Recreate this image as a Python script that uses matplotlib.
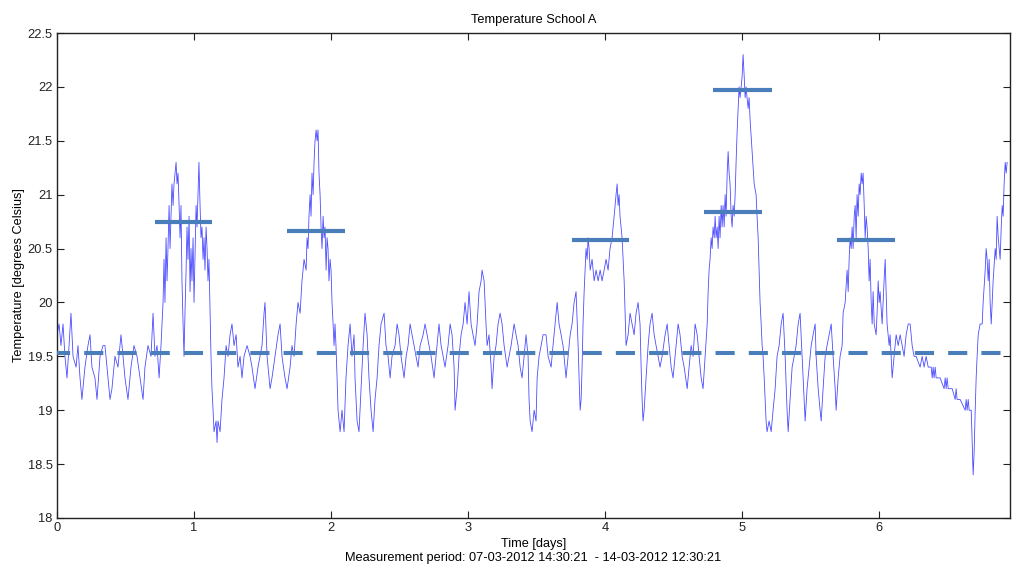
import matplotlib
matplotlib.use("Agg")
import matplotlib.pyplot as plt
from matplotlib.ticker import FuncFormatter

# ---------------- data ----------------
time_days = [
    0.000, 0.015, 0.029, 0.044, 0.058, 0.073, 0.088, 0.102, 0.117, 0.139,
    0.153, 0.168, 0.182, 0.204, 0.226, 0.241, 0.255, 0.277, 0.292, 0.314,
    0.336, 0.350, 0.372, 0.387, 0.401, 0.423, 0.445, 0.467, 0.482, 0.496,
    0.518, 0.540, 0.562, 0.584, 0.606, 0.628, 0.642, 0.664, 0.686, 0.701,
    0.715, 0.730, 0.745, 0.759, 0.774, 0.781, 0.788, 0.796, 0.803, 0.810,
    0.818, 0.825, 0.832, 0.839, 0.847, 0.854, 0.869, 0.876, 0.883, 0.891,
    0.898, 0.905, 0.912, 0.920, 0.927, 0.934, 0.942, 0.949, 0.956, 0.964,
    0.971, 0.978, 0.985, 0.993, 1.000, 1.007, 1.015, 1.022, 1.029, 1.036,
    1.044, 1.051, 1.058, 1.066, 1.073, 1.080, 1.088, 1.095, 1.102, 1.109,
    1.117, 1.124, 1.131, 1.139, 1.146, 1.161, 1.168, 1.175, 1.190, 1.204,
    1.219, 1.234, 1.248, 1.263, 1.277, 1.292, 1.307, 1.321, 1.336, 1.350,
    1.365, 1.387, 1.409, 1.423, 1.445, 1.467, 1.496, 1.511, 1.518, 1.533,
    1.555, 1.569, 1.591, 1.613, 1.628, 1.642, 1.664, 1.679, 1.701, 1.715,
    1.730, 1.745, 1.759, 1.774, 1.788, 1.803, 1.818, 1.825, 1.832, 1.839,
    1.847, 1.854, 1.861, 1.869, 1.876, 1.883, 1.891, 1.898, 1.905, 1.912,
    1.920, 1.927, 1.934, 1.942, 1.949, 1.956, 1.964, 1.971, 1.978, 1.985,
    1.993, 2.000, 2.007, 2.015, 2.022, 2.029, 2.036, 2.044, 2.051, 2.066,
    2.080, 2.095, 2.109, 2.124, 2.139, 2.153, 2.168, 2.175, 2.190, 2.204,
    2.219, 2.234, 2.248, 2.263, 2.277, 2.292, 2.307, 2.321, 2.336, 2.350,
    2.365, 2.387, 2.401, 2.416, 2.431, 2.445, 2.467, 2.482, 2.496, 2.511,
    2.533, 2.548, 2.562, 2.577, 2.591, 2.606, 2.620, 2.635, 2.650, 2.672,
    2.686, 2.701, 2.715, 2.730, 2.752, 2.766, 2.788, 2.803, 2.818, 2.832,
    2.854, 2.869, 2.883, 2.898, 2.905, 2.920, 2.934, 2.949, 2.964, 2.978,
    2.993, 3.007, 3.022, 3.036, 3.051, 3.066, 3.080, 3.095, 3.102, 3.117,
    3.131, 3.139, 3.153, 3.168, 3.175, 3.190, 3.204, 3.219, 3.234, 3.248,
    3.263, 3.285, 3.299, 3.314, 3.336, 3.350, 3.365, 3.380, 3.394, 3.409,
    3.423, 3.438, 3.445, 3.453, 3.467, 3.482, 3.496, 3.504, 3.518, 3.533,
    3.547, 3.569, 3.584, 3.606, 3.620, 3.635, 3.650, 3.664, 3.679, 3.693,
    3.715, 3.730, 3.745, 3.759, 3.774, 3.788, 3.803, 3.810, 3.818, 3.825,
    3.832, 3.839, 3.847, 3.854, 3.861, 3.869, 3.876, 3.883, 3.891, 3.905,
    3.920, 3.934, 3.949, 3.964, 3.978, 3.993, 4.007, 4.022, 4.036, 4.051,
    4.066, 4.080, 4.088, 4.095, 4.102, 4.109, 4.124, 4.139, 4.146, 4.153,
    4.168, 4.182, 4.197, 4.212, 4.226, 4.241, 4.255, 4.263, 4.270, 4.277,
    4.285, 4.299, 4.314, 4.328, 4.343, 4.358, 4.372, 4.387, 4.401, 4.416,
    4.438, 4.453, 4.467, 4.482, 4.496, 4.511, 4.533, 4.547, 4.562, 4.577,
    4.599, 4.613, 4.628, 4.642, 4.657, 4.672, 4.686, 4.701, 4.715, 4.730,
    4.745, 4.752, 4.759, 4.766, 4.774, 4.781, 4.788, 4.796, 4.803, 4.810,
    4.818, 4.825, 4.832, 4.839, 4.847, 4.854, 4.861, 4.869, 4.876, 4.883,
    4.891, 4.898, 4.905, 4.912, 4.920, 4.927, 4.934, 4.942, 4.949, 4.956,
    4.964, 4.971, 4.978, 4.985, 4.993, 5.000, 5.007, 5.015, 5.022, 5.029,
    5.036, 5.044, 5.051, 5.058, 5.073, 5.088, 5.102, 5.109, 5.117, 5.124,
    5.131, 5.139, 5.146, 5.153, 5.161, 5.168, 5.175, 5.182, 5.197, 5.212,
    5.226, 5.241, 5.255, 5.270, 5.285, 5.299, 5.314, 5.328, 5.336, 5.350,
    5.365, 5.380, 5.394, 5.409, 5.423, 5.438, 5.453, 5.460, 5.474, 5.489,
    5.504, 5.518, 5.533, 5.540, 5.555, 5.569, 5.577, 5.591, 5.606, 5.620,
    5.635, 5.650, 5.664, 5.679, 5.686, 5.701, 5.715, 5.730, 5.737, 5.752,
    5.766, 5.774, 5.781, 5.788, 5.796, 5.803, 5.810, 5.818, 5.825, 5.832,
    5.839, 5.847, 5.854, 5.861, 5.869, 5.876, 5.883, 5.891, 5.898, 5.905,
    5.912, 5.920, 5.927, 5.934, 5.942, 5.949, 5.956, 5.964, 5.978, 5.985,
    5.993, 6.000, 6.007, 6.022, 6.036, 6.044, 6.051, 6.058, 6.073, 6.080,
    6.095, 6.109, 6.124, 6.139, 6.153, 6.168, 6.182, 6.197, 6.212, 6.226,
    6.241, 6.255, 6.270, 6.299, 6.314, 6.328, 6.343, 6.358, 6.380, 6.387,
    6.394, 6.401, 6.409, 6.416, 6.445, 6.474, 6.482, 6.489, 6.496, 6.504,
    6.533, 6.555, 6.562, 6.569, 6.591, 6.628, 6.635, 6.642, 6.650, 6.657,
    6.672, 6.679, 6.686, 6.693, 6.701, 6.708, 6.715, 6.723, 6.737, 6.752,
    6.759, 6.774, 6.781, 6.788, 6.796, 6.803, 6.810, 6.818, 6.825, 6.832,
    6.847, 6.854, 6.861, 6.869, 6.876, 6.883, 6.891, 6.898, 6.905, 6.912,
    6.920, 6.927, 6.934,
]

temperature_c = [
    19.7, 19.8, 19.6, 19.8, 19.5, 19.3, 19.6, 19.9, 19.5, 19.4,
    19.6, 19.3, 19.1, 19.4, 19.6, 19.7, 19.4, 19.3, 19.1, 19.5,
    19.6, 19.6, 19.3, 19.1, 19.2, 19.5, 19.4, 19.7, 19.5, 19.3,
    19.1, 19.4, 19.6, 19.5, 19.3, 19.1, 19.4, 19.6, 19.5, 19.9,
    19.5, 19.6, 19.3, 19.6, 20.0, 20.4, 20.0, 20.6, 20.2, 20.5,
    20.9, 20.5, 20.8, 21.1, 20.9, 21.1, 21.3, 21.1, 21.2, 20.9,
    20.6, 20.9, 20.2, 19.8, 19.5, 19.9, 20.3, 20.7, 20.4, 20.8,
    20.1, 20.5, 20.2, 20.6, 20.0, 20.4, 20.9, 20.7, 21.0, 21.3,
    20.9, 20.6, 20.7, 20.4, 20.6, 20.3, 20.7, 20.5, 20.2, 20.4,
    19.9, 19.5, 19.2, 19.0, 18.8, 18.9, 18.7, 18.9, 18.8, 19.1,
    19.3, 19.6, 19.5, 19.7, 19.8, 19.6, 19.7, 19.4, 19.5, 19.3,
    19.5, 19.6, 19.5, 19.4, 19.2, 19.4, 19.6, 19.9, 20.0, 19.5,
    19.2, 19.3, 19.5, 19.7, 19.8, 19.5, 19.3, 19.2, 19.4, 19.6,
    19.5, 19.8, 20.0, 19.9, 20.2, 20.4, 20.3, 20.6, 20.5, 20.8,
    21.0, 20.8, 21.2, 21.0, 21.3, 21.5, 21.6, 21.5, 21.6, 21.2,
    21.0, 20.7, 20.5, 20.8, 20.6, 20.7, 20.3, 20.6, 20.5, 20.2,
    20.4, 20.3, 20.0, 19.8, 19.6, 19.8, 19.6, 19.3, 19.0, 18.8,
    19.0, 18.8, 19.3, 19.6, 19.8, 19.5, 19.7, 19.3, 18.9, 18.8,
    19.2, 19.6, 19.9, 19.7, 19.3, 19.0, 18.8, 19.1, 19.3, 19.6,
    19.8, 19.9, 19.6, 19.5, 19.3, 19.5, 19.6, 19.8, 19.7, 19.5,
    19.3, 19.5, 19.6, 19.8, 19.7, 19.6, 19.5, 19.4, 19.6, 19.7,
    19.8, 19.7, 19.6, 19.5, 19.3, 19.5, 19.8, 19.6, 19.5, 19.4,
    19.6, 19.8, 19.7, 19.4, 19.0, 19.2, 19.5, 19.7, 19.8, 20.0,
    19.8, 20.1, 19.8, 19.7, 19.6, 19.8, 20.1, 20.2, 20.3, 20.2,
    19.8, 19.6, 19.7, 19.4, 19.2, 19.5, 19.6, 19.8, 19.9, 19.8,
    19.6, 19.4, 19.5, 19.6, 19.8, 19.7, 19.6, 19.4, 19.3, 19.5,
    19.7, 19.5, 19.1, 18.9, 18.8, 19.0, 18.9, 19.3, 19.5, 19.6,
    19.7, 19.7, 19.5, 19.4, 19.6, 19.8, 20.0, 19.8, 19.7, 19.6,
    19.3, 19.5, 19.7, 19.8, 20.0, 20.1, 19.6, 19.3, 19.0, 19.1,
    19.4, 19.8, 20.1, 20.3, 20.5, 20.4, 20.6, 20.5, 20.3, 20.4,
    20.2, 20.3, 20.2, 20.3, 20.2, 20.3, 20.4, 20.3, 20.5, 20.6,
    20.8, 21.0, 21.1, 20.9, 21.0, 20.8, 20.6, 20.2, 19.9, 19.6,
    19.7, 19.9, 19.8, 19.7, 19.9, 20.0, 19.8, 19.4, 19.1, 18.9,
    19.0, 19.3, 19.6, 19.8, 19.9, 19.7, 19.6, 19.5, 19.4, 19.5,
    19.7, 19.8, 19.6, 19.4, 19.3, 19.5, 19.8, 19.7, 19.5, 19.4,
    19.2, 19.4, 19.6, 19.5, 19.8, 19.7, 19.5, 19.3, 19.2, 19.5,
    19.8, 20.1, 20.3, 20.4, 20.6, 20.5, 20.7, 20.6, 20.8, 20.6,
    20.7, 20.5, 20.8, 20.6, 20.9, 20.7, 20.9, 20.7, 21.0, 20.8,
    21.2, 21.4, 21.2, 21.1, 20.8, 20.7, 20.9, 20.8, 21.0, 21.3,
    21.6, 21.8, 22.0, 21.9, 22.0, 22.1, 22.3, 22.1, 21.9, 22.0,
    21.9, 21.8, 21.9, 21.7, 21.4, 21.1, 21.0, 20.8, 20.6, 20.3,
    20.0, 19.8, 19.6, 19.5, 19.3, 19.1, 18.9, 18.8, 18.9, 18.8,
    19.0, 19.2, 19.5, 19.6, 19.8, 19.9, 19.5, 19.0, 18.8, 19.1,
    19.4, 19.5, 19.6, 19.8, 19.9, 19.5, 19.1, 18.9, 19.2, 19.4,
    19.6, 19.7, 19.8, 19.5, 19.2, 19.0, 18.9, 19.2, 19.5, 19.6,
    19.7, 19.8, 19.5, 19.2, 19.0, 19.3, 19.5, 19.6, 19.9, 20.0,
    20.3, 20.1, 20.4, 20.6, 20.5, 20.7, 20.5, 20.8, 20.9, 20.6,
    21.0, 20.8, 21.1, 21.0, 21.2, 21.1, 21.2, 20.9, 20.6, 20.8,
    20.7, 20.5, 20.2, 20.4, 20.0, 19.8, 20.1, 19.8, 19.7, 19.9,
    20.2, 20.0, 20.1, 19.8, 20.2, 20.4, 20.1, 19.8, 19.6, 19.7,
    19.3, 19.5, 19.7, 19.6, 19.7, 19.6, 19.5, 19.7, 19.8, 19.8,
    19.6, 19.5, 19.5, 19.4, 19.5, 19.4, 19.5, 19.4, 19.4, 19.3,
    19.4, 19.3, 19.4, 19.3, 19.3, 19.2, 19.3, 19.2, 19.3, 19.2,
    19.2, 19.1, 19.2, 19.1, 19.1, 19.0, 19.1, 19.0, 19.1, 19.0,
    19.0, 18.7, 18.4, 18.6, 19.0, 19.3, 19.5, 19.7, 19.8, 19.8,
    20.0, 20.3, 20.5, 20.4, 20.2, 20.4, 20.0, 19.8, 20.0, 20.2,
    20.5, 20.4, 20.8, 20.6, 20.5, 20.4, 20.7, 20.9, 20.8, 21.1,
    21.3, 21.2, 21.3,
]

# reference levels (degrees Celsius) and their time spans (days)
baseline_level = 19.53
level_values = [20.75, 20.66, 20.58, 21.97, 20.84, 20.58]
level_starts = [0.715, 1.679, 3.757, 4.791, 4.725, 5.696]
level_ends = [1.131, 2.102, 4.177, 5.217, 5.143, 6.117]

x_ticks = [0, 1, 2, 3, 4, 5, 6]
y_ticks = [18, 18.5, 19, 19.5, 20, 20.5, 21, 21.5, 22, 22.5]

title_text = "Temperature School A"
xlabel_text = "Time [days]\nMeasurement period: 07-03-2012 14:30:21  - 14-03-2012 12:30:21"
ylabel_text = "Temperature [degrees Celsius]"

n = min(len(time_days), len(temperature_c))
time_days = time_days[:n]
temperature_c = temperature_c[:n]

# ---------------- plot ----------------
plt.rcParams['font.family'] = ['Liberation Sans Narrow', 'Liberation Sans', 'DejaVu Sans']

fig = plt.figure(figsize=(10.14, 5.67), dpi=100)
ax = fig.add_axes([57 / 1014, 1 - 518 / 567, (1010 - 57) / 1014, (518 - 33) / 567])

ax.plot(time_days, temperature_c, color=(0, 0, 1), lw=0.6, alpha=0.7, zorder=2)

bar_color = '#4A7EBB'
ax.axhline(baseline_level, color=bar_color, lw=2.9, linestyle=(1.5, (4.75, 3.5)),
           dash_capstyle='butt', zorder=3)
ax.hlines(level_values, level_starts, level_ends, colors=bar_color, lw=3.0, zorder=3)

ax.set_xlim(0, 6.955)
ax.set_ylim(18, 22.5)
ax.set_xticks(x_ticks)
ax.set_yticks(y_ticks)
ax.yaxis.set_major_formatter(FuncFormatter(lambda v, p: "%g" % v))
ax.xaxis.set_major_formatter(FuncFormatter(lambda v, p: "%g" % v))

ax.tick_params(direction='in', length=5, width=0.8, top=True, right=True,
               labelsize=9.3, colors='#222222', pad=3)
for s in ax.spines.values():
    s.set_linewidth(1.0)
    s.set_color('#222222')

ax.set_title(title_text, fontsize=9.2, pad=7)
ax.set_xlabel(xlabel_text, fontsize=9.2, labelpad=3, linespacing=1.15)
ax.set_ylabel(ylabel_text, fontsize=9.2, labelpad=2)

fig.savefig("out.png", dpi=100)
